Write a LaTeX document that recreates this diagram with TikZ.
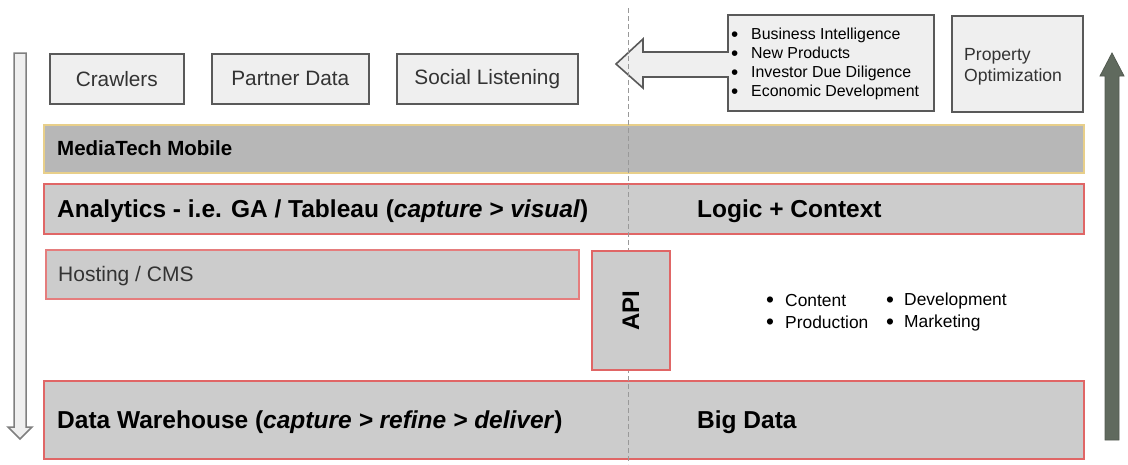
\documentclass[tikz,border=0pt]{standalone}
\usepackage{fontspec}
\setmainfont{Liberation Sans}
\definecolor{boxfill}{HTML}{EFEFEF}
\definecolor{boxline}{HTML}{595959}
\definecolor{textdark}{HTML}{333333}
\definecolor{mtfill}{HTML}{B7B7B7}
\definecolor{mtline}{HTML}{E8CF8A}
\definecolor{barfill}{HTML}{CCCCCC}
\definecolor{barline}{HTML}{E06666}
\definecolor{arrowline}{HTML}{7F7F7F}
\definecolor{uparrow}{HTML}{606A5E}
\definecolor{dashcol}{HTML}{999999}
\newcommand{\bul}[2]{\makebox[#1][l]{\raisebox{-0.1em}{\scalebox{1.3}{\textbullet}}}#2}
\begin{document}
\begin{tikzpicture}[x=1pt,y=-1pt,
  topbox/.style={draw=boxline, fill=boxfill, line width=1.6pt, inner sep=0pt, anchor=north west, text=textdark, font=\fontsize{20.8}{25}\selectfont},
  mtbar/.style={draw=mtline, fill=mtfill, line width=1.8pt, inner sep=0pt, anchor=north west},
  bar/.style={draw=barline, fill=barfill, line width=1.8pt, inner sep=0pt, anchor=north west},
  biglbl/.style={anchor=west, inner sep=0pt, font=\bfseries\fontsize{24.5}{29}\selectfont},
  hollow/.style={draw=arrowline, fill=boxfill, line width=1.5pt, line join=miter},
  listlbl/.style={anchor=west, inner sep=0pt, align=left, text=black}
]
\useasboundingbox (0,0) rectangle (1128,464);

% left hollow down arrow
\draw[hollow] (14,53) -- (26,53) -- (26,427) -- (32,427) -- (20,439) -- (8,427) -- (14,427) -- cycle;

% top boxes
\node[topbox, minimum width=134pt, minimum height=50pt] (crawl) at (49,53) {Crawlers};
\node[topbox, minimum width=157pt, minimum height=50pt] (partner) at (211,53) {Partner Data};
\node[topbox, minimum width=181pt, minimum height=50pt] (social) at (396,53) {Social Listening};

% combined arrow + list box
\draw[draw=boxline, fill=boxfill, line width=1.6pt, line join=miter]
  (728,15) -- (934,15) -- (934,111) -- (728,111) -- (728,77) -- (643,77) -- (643,88)
  -- (616,64) -- (643,39) -- (643,52) -- (728,52) -- cycle;
\node[listlbl, font=\fontsize{15.9}{19}\selectfont] (bizlist) at (731,64)
  {\bul{20pt}{Business Intelligence}\\ \bul{20pt}{New Products}\\ \bul{20pt}{Investor Due Diligence}\\ \bul{20pt}{Economic Development}};

\node[topbox, minimum width=131pt, minimum height=96pt] (prop) at (951,15) {};
\node[listlbl, text=textdark, font=\fontsize{17.6}{21}\selectfont] (proptext) at (964,66.5) {Property\\Optimization};

% up arrow
\draw[draw=uparrow!85!black, fill=uparrow, line width=0.8pt, line join=miter]
  (1105,440) -- (1105,76) -- (1100,76) -- (1112,53) -- (1124,76) -- (1119,76) -- (1119,440) -- cycle;

% bars
\node[mtbar, minimum width=1040pt, minimum height=48pt] (mt) at (43,124) {};
\node[anchor=west, inner sep=0pt, font=\bfseries\fontsize{20.5}{24}\selectfont] (mtl) at (57,148.5) {MediaTech Mobile};

\node[bar, minimum width=1040pt, minimum height=50pt] (ana) at (43,183) {};
\node[biglbl] (anal) at (57,211) {Analytics - i.e. GA / Tableau (\textit{capture > visual})};
\node[biglbl] (logic) at (697,211) {Logic + Context};

\node[bar, draw=barline!85!white, minimum width=533pt, minimum height=49pt] (host) at (45,249) {};
\node[anchor=west, inner sep=0pt, text=textdark, font=\fontsize{21}{25}\selectfont] (hostl) at (58,276) {Hosting / CMS};

\node[bar, minimum width=1040pt, minimum height=78pt] (dw) at (43,380) {};
\node[biglbl] (dwl) at (57,422) {Data Warehouse (\textit{capture > refine > deliver})};
\node[biglbl] (big) at (697,422) {Big Data};

% dashed divider
\draw[dashcol, line width=1pt, dash pattern=on 5pt off 3pt] (628,8) -- (628,464);

% API box
\node[bar, minimum width=78pt, minimum height=119pt] (api) at (591,250) {};
\node[rotate=90, inner sep=0pt, font=\bfseries\fontsize{24}{28}\selectfont] (apil) at (api.center) {API};

% bullet lists
\node[listlbl, font=\fontsize{17.4}{22}\selectfont] (list1) at (766,312) {\bul{19pt}{Content}\\ \bul{19pt}{Production}};
\node[listlbl, font=\fontsize{17.4}{22}\selectfont] (list2) at (886,312) {\bul{18pt}{Development}\\ \bul{18pt}{Marketing}};
\end{tikzpicture}
\end{document}
